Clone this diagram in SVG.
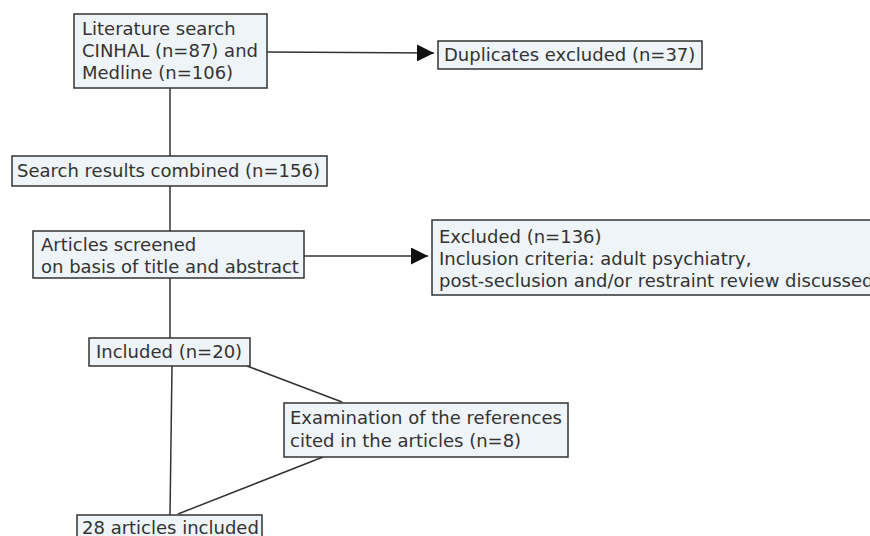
<svg xmlns="http://www.w3.org/2000/svg" width="870" height="536" viewBox="0 0 870 536">
<defs>
<style>
.box{fill:#eef4f7;stroke:#333;stroke-width:1.5}
.t{font-family:"DejaVu Sans","Verdana",sans-serif;font-size:18px;fill:#333}
.c{stroke:#333;stroke-width:1.5;fill:none}
</style>
<marker id="ah" viewBox="0 0 10 10" refX="10" refY="5" markerWidth="17" markerHeight="17" markerUnits="userSpaceOnUse" orient="auto">
<path d="M0,0 L10,5 L0,10 z" fill="#111"/>
</marker>
</defs>
<rect width="870" height="536" fill="#fff"/>
<g id="connectors">
<line class="c" x1="267" y1="52" x2="434" y2="53" marker-end="url(#ah)"/>
<line class="c" x1="170" y1="88" x2="170" y2="156"/>
<line class="c" x1="170" y1="186" x2="170" y2="231"/>
<line class="c" x1="304" y1="256" x2="428" y2="256" marker-end="url(#ah)"/>
<line class="c" x1="170" y1="278" x2="170" y2="338"/>
<line class="c" x1="172" y1="366" x2="170" y2="515"/>
<line class="c" x1="247" y1="366" x2="342" y2="402"/>
<line class="c" x1="323" y1="457" x2="178" y2="514"/>
</g>
<g id="n1">
<rect class="box" x="74" y="14" width="193" height="74"/>
<text class="t" x="82" y="35">Literature search</text>
<text class="t" x="82" y="57">CINHAL (n=87) and</text>
<text class="t" x="82" y="79">Medline (n=106)</text>
</g>
<g id="n2">
<rect class="box" x="438" y="41" width="264" height="28"/>
<text class="t" x="444" y="61">Duplicates excluded (n=37)</text>
</g>
<g id="n3">
<rect class="box" x="12" y="156" width="315" height="30"/>
<text class="t" x="17" y="177">Search results combined (n=156)</text>
</g>
<g id="n4">
<rect class="box" x="33" y="231" width="271" height="47"/>
<text class="t" x="41" y="251">Articles screened</text>
<text class="t" x="41" y="273">on basis of title and abstract</text>
</g>
<g id="n5">
<rect class="box" x="432" y="220" width="450" height="75"/>
<text class="t" x="439" y="243">Excluded (n=136)</text>
<text class="t" x="439" y="265">Inclusion criteria: adult psychiatry,</text>
<text class="t" x="439" y="287">post-seclusion and/or restraint review discussed</text>
</g>
<g id="n6">
<rect class="box" x="89" y="338" width="161" height="28"/>
<text class="t" x="96" y="358">Included (n=20)</text>
</g>
<g id="n7">
<rect class="box" x="284" y="403" width="284" height="54"/>
<text class="t" x="290" y="424">Examination of the references</text>
<text class="t" x="290" y="447">cited in the articles (n=8)</text>
</g>
<g id="n8">
<rect class="box" x="77" y="515" width="185" height="30"/>
<text class="t" x="82" y="534">28 articles included</text>
</g>
</svg>
